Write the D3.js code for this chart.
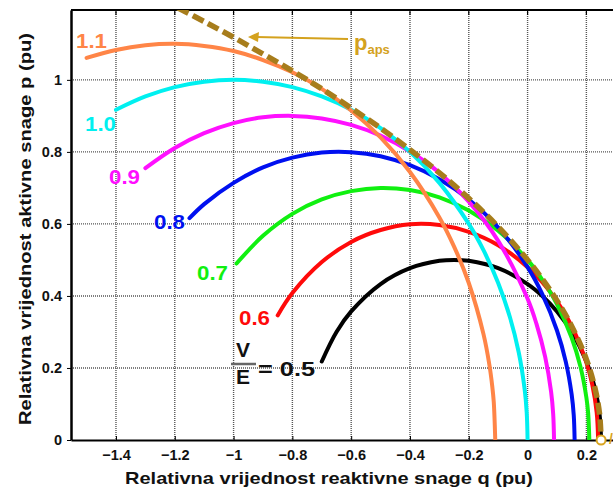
<!DOCTYPE html>
<html><head><meta charset="utf-8">
<script src="https://cdn.jsdelivr.net/npm/d3@7"></script>
<style>body{margin:0;background:#fff}svg{display:block}text{font-family:"Liberation Sans",Arial,sans-serif;font-weight:bold}</style>
</head><body><svg id="c" width="613" height="494"></svg>
<script>
// ---- data ----
const xTicks = [-1.4,-1.2,-1,-0.8,-0.6,-0.4,-0.2,0,0.2];
const yTicks = [0,0.2,0.4,0.6,0.8,1];
const ratios = ["1.1","1.0","0.9","0.8","0.7","0.6","0.5"];
const colors = ["#ff8547","#00f0f0","#ff10ff","#0010f0","#10f010","#ff0a0a","#000000"];
const curve11 = [[-1.5,1.061],[-1.4,1.083],[-1.3,1.096],[-1.2,1.1],[-1.1,1.094],[-1.0,1.08],[-0.9,1.055],[-0.8,1.021],[-0.7,0.975],[-0.6,0.915],[-0.5,0.84],[-0.4,0.744],[-0.3,0.618],[-0.25,0.537],[-0.2,0.436],[-0.15,0.294],[-0.13,0.209],[-0.12,0.148],[-0.115,0.105],[-0.11,0]];
const curve10 = [[-1.4,0.917],[-1.3,0.954],[-1.2,0.98],[-1.1,0.995],[-1.0,1.0],[-0.9,0.995],[-0.8,0.98],[-0.7,0.954],[-0.6,0.917],[-0.5,0.866],[-0.4,0.8],[-0.3,0.714],[-0.2,0.6],[-0.15,0.527],[-0.1,0.436],[-0.06,0.341],[-0.03,0.243],[-0.01,0.141],[-0.003,0.077],[0,0]];
const curve09 = [[-1.3,0.755],[-1.2,0.811],[-1.1,0.852],[-1.0,0.88],[-0.9,0.896],[-0.8,0.9],[-0.7,0.893],[-0.6,0.875],[-0.5,0.845],[-0.4,0.801],[-0.3,0.742],[-0.2,0.662],[-0.1,0.553],[0,0.392],[0.03,0.323],[0.06,0.23],[0.08,0.134],[0.087,0.073],[0.09,0]];
const curve08 = [[-1.15,0.616],[-1.1,0.655],[-1.0,0.714],[-0.9,0.757],[-0.8,0.784],[-0.7,0.798],[-0.6,0.799],[-0.5,0.788],[-0.4,0.763],[-0.3,0.724],[-0.2,0.668],[-0.1,0.59],[0,0.48],[0.05,0.405],[0.1,0.304],[0.13,0.217],[0.15,0.126],[0.157,0.069],[0.16,0]];
const curve07 = [[-0.99,0.49],[-0.9,0.567],[-0.8,0.628],[-0.7,0.668],[-0.6,0.691],[-0.5,0.7],[-0.4,0.694],[-0.3,0.674],[-0.2,0.637],[-0.1,0.581],[0,0.5],[0.05,0.445],[0.1,0.377],[0.15,0.284],[0.18,0.203],[0.2,0.118],[0.206,0.075],[0.21,0]];
const curve06 = [[-0.85,0.346],[-0.8,0.408],[-0.7,0.494],[-0.6,0.55],[-0.5,0.583],[-0.4,0.599],[-0.3,0.597],[-0.2,0.578],[-0.1,0.541],[0,0.48],[0.05,0.438],[0.1,0.385],[0.15,0.316],[0.2,0.215],[0.22,0.154],[0.235,0.077],[0.24,0]];
const curve05 = [[-0.7,0.218],[-0.65,0.3],[-0.6,0.357],[-0.5,0.433],[-0.4,0.477],[-0.3,0.4975],[-0.25,0.5],[-0.2,0.4975],[-0.1,0.477],[0,0.433],[0.05,0.4],[0.1,0.357],[0.15,0.3],[0.2,0.218],[0.23,0.14],[0.245,0.07],[0.25,0]];
const envelope = [[-1.19,1.2],[-1.1,1.162],[-1.0,1.118],[-0.9,1.072],[-0.8,1.025],[-0.7,0.975],[-0.6,0.922],[-0.5,0.866],[-0.4,0.806],[-0.3,0.742],[-0.2,0.671],[-0.1,0.592],[0,0.5],[0.05,0.447],[0.1,0.387],[0.15,0.316],[0.2,0.224],[0.23,0.141],[0.245,0.071],[0.25,0]];
const curves = [curve11,curve10,curve09,curve08,curve07,curve06,curve05];

// ---- layout ----
const svg = d3.select("#c");
const L=71, T=10, B=440, R=616;
const x = d3.scaleLinear().domain([-1.553,0.3]).range([L,L+(0.3+1.553)*294]);
const y = d3.scaleLinear().domain([0,1.194]).range([B,T]);

// grid
const g = svg.append("g");
g.selectAll(".vg").data(xTicks).join("line").attr("x1",d=>x(d)).attr("x2",d=>x(d)).attr("y1",T).attr("y2",B)
 .attr("stroke","#555").attr("stroke-width",1.4).attr("stroke-dasharray","1,1");
g.selectAll(".hg").data(yTicks.filter(d=>d>0)).join("line").attr("y1",d=>y(d)).attr("y2",d=>y(d)).attr("x1",L).attr("x2",R)
 .attr("stroke","#555").attr("stroke-width",1.4).attr("stroke-dasharray","1,1");

// top frame with inward ticks
svg.append("line").attr("x1",L).attr("x2",R).attr("y1",T).attr("y2",T).attr("stroke","#000").attr("stroke-width",2);
svg.selectAll(".tt").data(xTicks).join("line").attr("x1",d=>x(d)).attr("x2",d=>x(d)).attr("y1",T).attr("y2",T+5).attr("stroke","#000").attr("stroke-width",1.2);

// axes
const xa = svg.append("g").attr("transform",`translate(0,${B})`)
 .call(d3.axisBottom(x).tickValues(xTicks).tickSizeInner(-4).tickSizeOuter(0).tickPadding(10).tickFormat(d=>d3.format("")(+d.toFixed(1))));
xa.select(".domain").attr("stroke-width",2.2);
xa.selectAll("text").attr("font-size",14.5).attr("font-weight","bold").attr("font-family","Liberation Sans, Arial").attr("fill","#111");
const ya = svg.append("g").attr("transform",`translate(${L},0)`)
 .call(d3.axisLeft(y).tickValues(yTicks).tickSize(4).tickSizeOuter(0).tickPadding(5).tickFormat(d=>d3.format("")(+d.toFixed(1))));
ya.select(".domain").attr("stroke-width",2.5);
ya.selectAll("text").attr("font-size",14.5).attr("font-weight","bold").attr("font-family","Liberation Sans, Arial").attr("fill","#111");

// clip
svg.append("clipPath").attr("id","clp").append("rect").attr("x",L).attr("y",T).attr("width",R-L).attr("height",B-T);
const line = d3.line().x(d=>x(d[0])).y(d=>y(d[1])).curve(d3.curveCatmullRom.alpha(0.5));
const pl = svg.append("g").attr("clip-path","url(#clp)");
const order = [6,5,4,3,2,1,0];
order.forEach(i=>{
  pl.append("path").attr("d",line(curves[i])).attr("fill","none").attr("stroke",colors[i]).attr("stroke-width",4).attr("stroke-linecap","round");
});
pl.append("path").attr("d",line(envelope)).attr("fill","none").attr("stroke","#a77d1c").attr("stroke-width",5.5).attr("stroke-dasharray","12,5");

// end point marker
svg.append("circle").attr("cx",x(0.25)).attr("cy",y(0)).attr("r",4.5).attr("fill","#fff").attr("stroke","#d9a520").attr("stroke-width",2);
svg.append("text").attr("x",609).attr("y",y(0)+4).attr("fill","#d9a520").attr("font-size",14).text("/");

// curve labels
const labPos = [[76,48],[85,131],[109,184],[154,229],[197,280],[239,325]];
labPos.forEach((p,i)=>{
  svg.append("text").attr("x",p[0]).attr("y",p[1]).attr("fill",colors[i]).attr("font-size",21).attr("textLength",31).attr("lengthAdjust","spacingAndGlyphs").text(ratios[i]);
});
// V/E = 0.5
svg.append("text").attr("x",236).attr("y",357).attr("font-size",21).attr("fill","#111").text("V");
svg.append("line").attr("x1",231).attr("x2",256).attr("y1",364).attr("y2",364).attr("stroke","#666").attr("stroke-width",2.5);
svg.append("text").attr("x",236).attr("y",384).attr("font-size",21).attr("fill","#111").text("E");
svg.append("text").attr("x",258).attr("y",376).attr("font-size",21).attr("textLength",57).attr("lengthAdjust","spacingAndGlyphs").attr("fill","#111").text("= "+ratios[6]);

// p_aps arrow
svg.append("line").attr("x1",256).attr("y1",37).attr("x2",348).attr("y2",39).attr("stroke","#d4a21e").attr("stroke-width",1.8);
svg.append("path").attr("d","M248,37 L259,32 L258,42 Z").attr("fill","#d4a21e");
const pt = svg.append("text").attr("x",354).attr("y",50).attr("fill","#d4a21e").attr("font-size",22);
pt.append("tspan").text("p");
pt.append("tspan").attr("font-size",13).attr("dy",4).text("aps");

// titles
svg.append("text").attr("x",125).attr("y",484).attr("font-size",17).attr("textLength",408).attr("lengthAdjust","spacingAndGlyphs").attr("fill","#111")
 .text("Relativna vrijednost reaktivne snage q (pu)");
svg.append("text").attr("transform","translate(31,425) rotate(-90)").attr("font-size",17).attr("textLength",392).attr("lengthAdjust","spacingAndGlyphs").attr("fill","#111")
 .text("Relativna vrijednost aktivne snage p (pu)");
</script></body></html>
